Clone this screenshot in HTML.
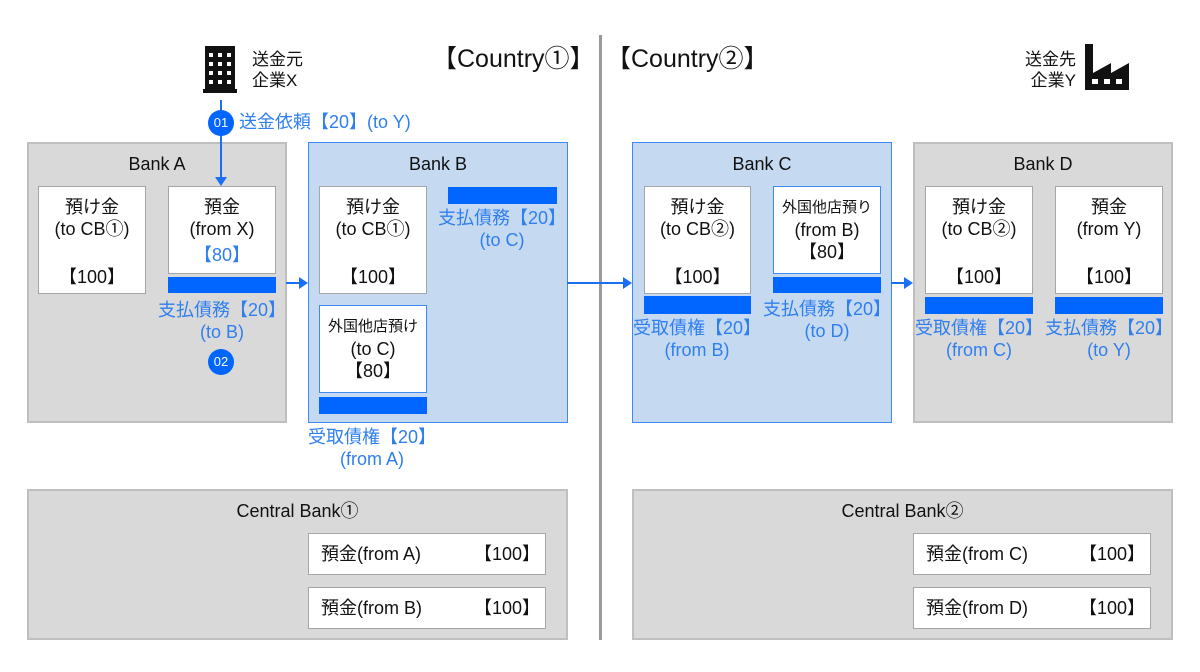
<!DOCTYPE html>
<html><head><meta charset="utf-8"><style>
body{margin:0;width:1200px;height:672px;background:#fff;position:relative;overflow:hidden;font-family:"Liberation Sans","Noto Sans CJK JP",sans-serif;color:#111}
div{position:absolute;box-sizing:border-box}
.g{background:#d9d9d9;border:2px solid #bfbfbf}
.b{background:#c5d9f1;border:1.5px solid #3d8af7}
.w{background:#fff;border:1.5px solid #a6a6a6;text-align:center;font-size:18px;line-height:22px}
.wb{border-color:#3d8af7}
.bar{background:#0066ff}
.t{text-align:center;font-size:18px;line-height:22px;white-space:nowrap}
.bl{color:#2f7fef}
.c{width:26px;height:26px;border-radius:50%;background:#0066ff;color:#fff;font-size:13px;line-height:26px;text-align:center}
</style></head><body>
<div style="left:599px;top:35px;width:3px;height:605px;background:#999"></div>

<div class="g" style="left:27px;top:142px;width:260px;height:281px"></div>
<div class="b" style="left:308px;top:142px;width:260px;height:281px"></div>
<div class="b" style="left:632px;top:142px;width:260px;height:281px"></div>
<div class="g" style="left:913px;top:142px;width:260px;height:281px"></div>
<div class="t" style="left:27px;top:153px;width:260px">Bank A</div>
<div class="t" style="left:308px;top:153px;width:260px">Bank B</div>
<div class="t" style="left:632px;top:153px;width:260px">Bank C</div>
<div class="t" style="left:913px;top:153px;width:260px">Bank D</div>

<!-- Bank A -->
<div class="w" style="left:38px;top:186px;width:108px;height:108px;padding-top:9px">預け金<br>(to CB①)<br><br><span style="line-height:30px">【100】</span></div>
<div class="w" style="left:168px;top:186px;width:108px;height:88px;padding-top:9px">預金<br>(from X)<br><span class="bl" style="line-height:30px">【80】</span></div>
<div class="bar" style="left:168px;top:277px;width:108px;height:16px"></div>
<div class="t bl" style="left:148px;top:299px;width:148px">支払債務【20】<br>(to B)</div>
<div class="c" style="left:208px;top:349px">02</div>

<!-- Bank B -->
<div class="w" style="left:319px;top:186px;width:108px;height:108px;padding-top:9px">預け金<br>(to CB①)<br><br><span style="line-height:30px">【100】</span></div>
<div class="bar" style="left:448px;top:187px;width:109px;height:17px"></div>
<div class="t bl" style="left:428px;top:207px;width:148px">支払債務【20】<br>(to C)</div>
<div class="w wb" style="left:319px;top:305px;width:108px;height:88px;padding-top:8px"><span style="font-size:15px">外国他店預け</span><br>(to C)<br>【80】</div>
<div class="bar" style="left:319px;top:397px;width:108px;height:17px"></div>
<div class="t bl" style="left:298px;top:426px;width:148px">受取債権【20】<br>(from A)</div>

<!-- Bank C -->
<div class="w" style="left:644px;top:186px;width:107px;height:108px;padding-top:9px">預け金<br>(to CB②)<br><br><span style="line-height:30px">【100】</span></div>
<div class="w wb" style="left:773px;top:186px;width:108px;height:88px;padding-top:8px"><span style="font-size:15px">外国他店預り</span><br>(from B)<br>【80】</div>
<div class="bar" style="left:644px;top:296px;width:107px;height:18px"></div>
<div class="bar" style="left:773px;top:277px;width:108px;height:16px"></div>
<div class="t bl" style="left:623px;top:317px;width:148px">受取債権【20】<br>(from B)</div>
<div class="t bl" style="left:753px;top:298px;width:148px">支払債務【20】<br>(to D)</div>

<!-- Bank D -->
<div class="w" style="left:925px;top:186px;width:108px;height:108px;padding-top:9px">預け金<br>(to CB②)<br><br><span style="line-height:30px">【100】</span></div>
<div class="w" style="left:1055px;top:186px;width:108px;height:108px;padding-top:9px">預金<br>(from Y)<br><br><span style="line-height:30px">【100】</span></div>
<div class="bar" style="left:925px;top:297px;width:108px;height:17px"></div>
<div class="bar" style="left:1055px;top:297px;width:108px;height:17px"></div>
<div class="t bl" style="left:905px;top:317px;width:148px">受取債権【20】<br>(from C)</div>
<div class="t bl" style="left:1035px;top:317px;width:148px">支払債務【20】<br>(to Y)</div>

<!-- Central banks -->
<div class="g" style="left:27px;top:489px;width:541px;height:151px"></div>
<div class="g" style="left:632px;top:489px;width:541px;height:151px"></div>
<div class="t" style="left:27px;top:500px;width:541px">Central Bank①</div>
<div class="t" style="left:632px;top:500px;width:541px">Central Bank②</div>
<div class="w" style="left:308px;top:533px;width:238px;height:42px;text-align:left;padding:9px 0 0 12px">預金(from A)<span style="position:absolute;left:165px">【100】</span></div>
<div class="w" style="left:308px;top:587px;width:238px;height:42px;text-align:left;padding:9px 0 0 12px">預金(from B)<span style="position:absolute;left:165px">【100】</span></div>
<div class="w" style="left:913px;top:533px;width:238px;height:42px;text-align:left;padding:9px 0 0 12px">預金(from C)<span style="position:absolute;left:165px">【100】</span></div>
<div class="w" style="left:913px;top:587px;width:238px;height:42px;text-align:left;padding:9px 0 0 12px">預金(from D)<span style="position:absolute;left:165px">【100】</span></div>

<!-- Headers -->
<div style="left:432px;top:44px;font-size:25px;line-height:30px;white-space:nowrap">【Country①】</div>
<div style="left:606px;top:44px;font-size:25px;line-height:30px;white-space:nowrap">【Country②】</div>
<div style="left:252px;top:49px;font-size:17px;line-height:21px">送金元<br>企業X</div>
<div style="left:1000px;top:49px;width:76px;text-align:right;font-size:17px;line-height:21px">送金先<br>企業Y</div>

<svg style="position:absolute;left:0;top:0" width="1200" height="672">
 <g fill="#111">
  <rect x="205" y="46" width="30" height="46"/>
  <rect x="203" y="89" width="34" height="4"/>
 </g>
 <g fill="#fff">
  <rect x="209" y="53" width="4" height="4"/><rect x="218" y="53" width="4" height="4"/><rect x="227" y="53" width="4" height="4"/>
  <rect x="209" y="62" width="4" height="4"/><rect x="218" y="62" width="4" height="4"/><rect x="227" y="62" width="4" height="4"/>
  <rect x="209" y="71" width="4" height="4"/><rect x="218" y="71" width="4" height="4"/><rect x="227" y="71" width="4" height="4"/>
  <rect x="209" y="80" width="4" height="4"/><rect x="218" y="80" width="4" height="4"/><rect x="227" y="80" width="4" height="4"/>
 </g>
 <path d="M1085 44 H1093 V73 L1111 63 V73 L1129 63 V90 H1085 Z" fill="#111"/>
 <g fill="#fff"><rect x="1092" y="79" width="6" height="5"/><rect x="1104" y="79" width="6" height="5"/><rect x="1116" y="79" width="6" height="5"/></g>
 <g stroke="#1a6ff5" stroke-width="2" fill="#1a6ff5">
  <line x1="221" y1="100" x2="221" y2="178"/><path d="M215 177 L227 177 L221 186 Z" stroke="none"/>
  <line x1="286" y1="283" x2="300" y2="283"/><path d="M299 277 L308 283 L299 289 Z" stroke="none"/>
  <line x1="567" y1="283" x2="624" y2="283"/><path d="M623 277 L632 283 L623 289 Z" stroke="none"/>
  <line x1="891" y1="283" x2="905" y2="283"/><path d="M904 277 L913 283 L904 289 Z" stroke="none"/>
 </g>
</svg>
<div class="c" style="left:208px;top:110px">01</div>
<div class="bl" style="left:239px;top:110px;font-size:18px;line-height:24px;white-space:nowrap">送金依頼【20】(to Y)</div>
</body></html>
